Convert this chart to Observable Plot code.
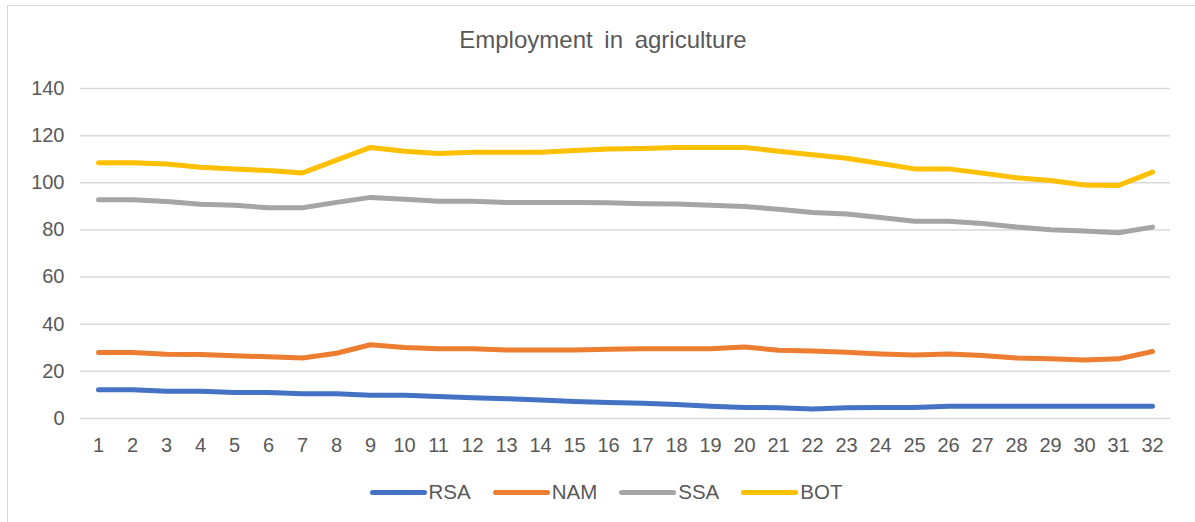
<!DOCTYPE html>
<html>
<head>
<meta charset="utf-8">
<script src="https://cdn.jsdelivr.net/npm/d3@7"></script>
<script src="https://cdn.jsdelivr.net/npm/@observablehq/plot@0.6"></script>
<style>
  html, body { margin: 0; padding: 0; background: #fff; }
  #wrap { position: relative; width: 1195px; height: 522px; overflow: hidden; font-family: "Liberation Sans", Arial, sans-serif; }
  #frame { position: absolute; left: 7px; top: 5px; width: 1200px; height: 540px; border: 1.5px solid #d9d9d9; box-sizing: border-box; }
  #title { position: absolute; left: 7px; width: 1192px; top: 28px; text-align: center; font-size: 24px; line-height: 24px; color: #595959; word-spacing: 5px; }
  #chart { position: absolute; left: 0; top: 0; }
  #legend { position: absolute; left: 10px; width: 1192px; top: 482px; display: flex; justify-content: center; align-items: center; font-size: 20.5px; line-height: 20.5px; color: #595959; }
  .item { display: flex; align-items: center; margin: 0 11px; }
  .sw { width: 57px; height: 5px; border-radius: 3px; margin-right: 2px; }
</style>
</head>
<body>
<div id="wrap">
  <div id="frame"></div>
  <div id="chart"></div>
  <div id="title">Employment in agriculture</div>
  <div id="legend"></div>
</div>
<script>
const periods = [1,2,3,4,5,6,7,8,9,10,11,12,13,14,15,16,17,18,19,20,21,22,23,24,25,26,27,28,29,30,31,32];
const seriesNames = ["RSA", "NAM", "SSA", "BOT"];
const seriesColors = ["#4472C4", "#ED7D31", "#A5A5A5", "#FFC000"];
const yTicks = [0, 20, 40, 60, 80, 100, 120, 140];
const rsa = [12.2,12.2,11.6,11.6,11.0,11.0,10.5,10.5,9.9,9.9,9.3,8.8,8.4,7.8,7.2,6.8,6.5,5.9,5.2,4.7,4.6,4.0,4.6,4.7,4.7,5.2,5.2,5.2,5.2,5.2,5.2,5.2];
const nam = [28.0,28.0,27.3,27.2,26.6,26.2,25.7,27.7,31.3,30.1,29.6,29.6,29.1,29.1,29.1,29.4,29.6,29.6,29.6,30.3,29.0,28.6,28.1,27.4,26.9,27.4,26.7,25.7,25.3,24.8,25.3,28.4];
const ssa = [92.8,92.8,92.1,90.9,90.5,89.4,89.4,91.7,93.8,93.0,92.2,92.2,91.6,91.6,91.6,91.5,91.1,91.0,90.5,89.9,88.8,87.4,86.8,85.3,83.7,83.7,82.7,81.2,80.1,79.5,78.8,81.2];
const bot = [108.5,108.5,108.0,106.6,105.8,105.2,104.2,109.6,115.0,113.4,112.4,113.0,113.0,113.0,113.7,114.3,114.5,115.0,115.0,115.0,113.4,111.9,110.4,108.2,105.9,105.9,104.1,102.1,101.0,99.1,98.9,104.5];

const seriesValues = [rsa, nam, ssa, bot];
const data = [];
seriesNames.forEach((name, i) => {
  periods.forEach((p, j) => data.push({series: name, t: p, v: seriesValues[i][j]}));
});

const chart = Plot.plot({
  width: 1195,
  height: 522,
  marginLeft: 80,
  marginRight: 25,
  marginTop: 88,
  marginBottom: 104,
  style: { fontFamily: '"Liberation Sans", Arial, sans-serif', fontSize: "20px", color: "#595959", background: "transparent" },
  x: { type: "point", domain: periods, padding: 0.5, label: null },
  y: { domain: [0, 140], ticks: yTicks, label: null },
  color: { domain: seriesNames, range: seriesColors },
  marks: [
    Plot.gridY(yTicks, { stroke: "#d9d9d9", strokeOpacity: 1, strokeWidth: 1.5 }),
    Plot.axisX({ tickSize: 0, tickPadding: 19, label: null, fill: "#595959" }),
    Plot.axisY({ ticks: yTicks, tickSize: 0, tickPadding: 16, label: null, fill: "#595959" }),
    Plot.line(data, { x: "t", y: "v", stroke: "series", z: "series", strokeWidth: 5, strokeLinejoin: "round", strokeLinecap: "round" })
  ]
});
document.getElementById("chart").appendChild(chart);

const legend = document.getElementById("legend");
seriesNames.forEach((name, i) => {
  const item = document.createElement("div");
  item.className = "item";
  const sw = document.createElement("div");
  sw.className = "sw";
  sw.style.background = seriesColors[i];
  const label = document.createElement("span");
  label.textContent = name;
  item.appendChild(sw);
  item.appendChild(label);
  legend.appendChild(item);
});
</script>
</body>
</html>
